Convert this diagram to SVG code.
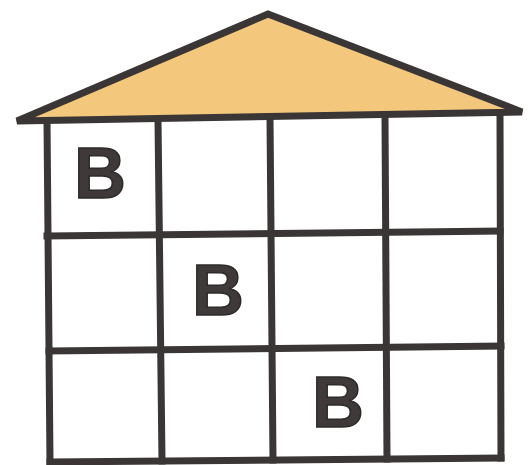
<svg xmlns="http://www.w3.org/2000/svg" width="532" height="465" viewBox="0 0 532 465">
<style>
.ln{stroke:#3b3636;stroke-width:7;stroke-linecap:square;fill:none}
.b{font-family:"Liberation Sans",Arial,sans-serif;font-weight:bold;font-size:72px;fill:#3f3939;stroke:#2e2a2a;stroke-width:1.5;text-anchor:middle}
</style>
<rect width="532" height="465" fill="#ffffff"/>
<g id="roof">
<polygon points="17,121 268,14 522,112" fill="#f3c87d" stroke="#3b3636" stroke-width="7" stroke-linejoin="miter"/>
</g>
<g id="grid">
<line class="ln" x1="47" y1="121" x2="50" y2="462"/>
<line class="ln" x1="158" y1="120" x2="162" y2="461"/>
<line class="ln" x1="270" y1="118" x2="273" y2="460"/>
<line class="ln" x1="385" y1="117" x2="387" y2="459"/>
<line class="ln" x1="500" y1="115" x2="501" y2="458"/>
<line class="ln" x1="47" y1="236" x2="500" y2="231"/>
<line class="ln" x1="49" y1="351" x2="501" y2="346"/>
<line class="ln" x1="50" y1="462" x2="501" y2="458"/>
</g>
<g id="b1"><text class="b" x="100" y="198">B</text></g>
<g id="b2"><text class="b" x="218" y="315">B</text></g>
<g id="b3"><text class="b" x="338" y="427">B</text></g>
</svg>
